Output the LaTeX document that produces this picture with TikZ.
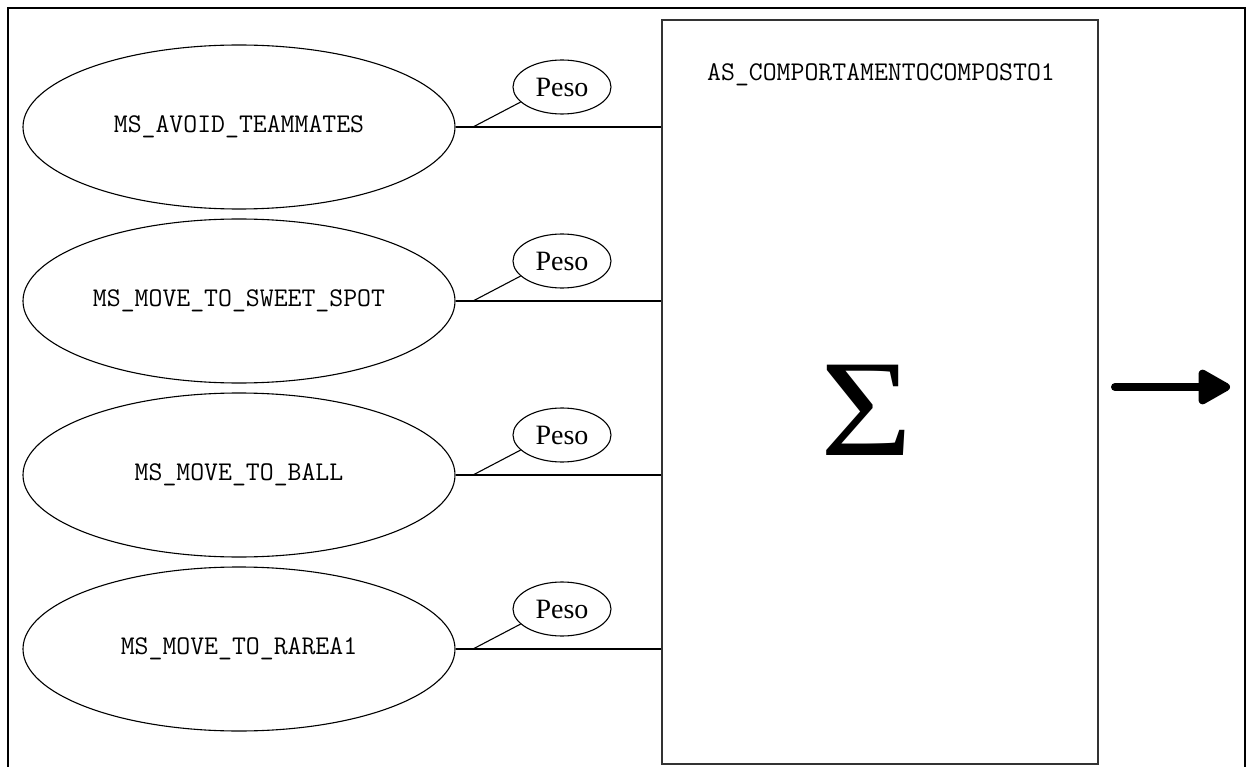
\documentclass[tikz,border=0pt]{standalone}
\usepackage{fontspec}
\setmainfont{Liberation Serif}
\usetikzlibrary{shapes.geometric,arrows.meta}
\begin{document}
\begin{tikzpicture}[x=1pt,y=-1pt,
  mono/.style={font=\ttfamily\fontsize{27}{30}\selectfont},
  behaviour/.style={draw,ellipse,line width=1.1pt,minimum width=432pt,minimum height=164pt,inner sep=0pt,mono},
  weight/.style={draw,ellipse,line width=1.1pt,minimum width=98pt,minimum height=54pt,inner sep=0pt,
    font=\fontsize{28}{30}\selectfont},
  link/.style={line width=1.6pt},
  tick/.style={line width=1.1pt}]
  \useasboundingbox (0,0) rectangle (1247,767);
  % outer frame, open at the bottom
  \draw[line width=1.8pt] (8,767) -- (8,8) -- (1245,8) -- (1245,767);
  % composite behaviour block
  \node[draw=black!80,line width=2pt,minimum width=436pt,minimum height=744pt,inner sep=0pt,anchor=north west]
    (box) at (661,19) {};
  \node[mono,anchor=west,inner sep=0pt] (title) at (707,75) {AS\_COMPORTAMENTOCOMPOSTO1};
  \node[font=\fontsize{138}{140}\selectfont,inner sep=0pt,xscale=1.15] (sum) at (867,410) {Σ};
  % output arrow
  \coordinate (outa) at (1115,387);
  \coordinate (outb) at (1230,387);
  \draw[line width=8pt,line cap=round,-{Triangle[length=36pt,width=38pt,round]}] (outa) -- (outb);
  % behaviours and their weights
  \foreach \name/\lab/\c in {a/MS\_AVOID\_TEAMMATES/127, b/MS\_MOVE\_TO\_SWEET\_SPOT/301,
                              c/MS\_MOVE\_TO\_BALL/475, d/MS\_MOVE\_TO\_RAREA1/649}{
    \node[behaviour] (\name) at (239,\c) {\lab};
    \node[weight] (w\name) at (562,\c-40) {Peso};
    \coordinate (j\name) at (473,\c);
    \draw[link] (\name.east) -- (box.west |- \name.east);
    \draw[tick] (j\name) -- (w\name.200);
  }
\end{tikzpicture}
\end{document}
